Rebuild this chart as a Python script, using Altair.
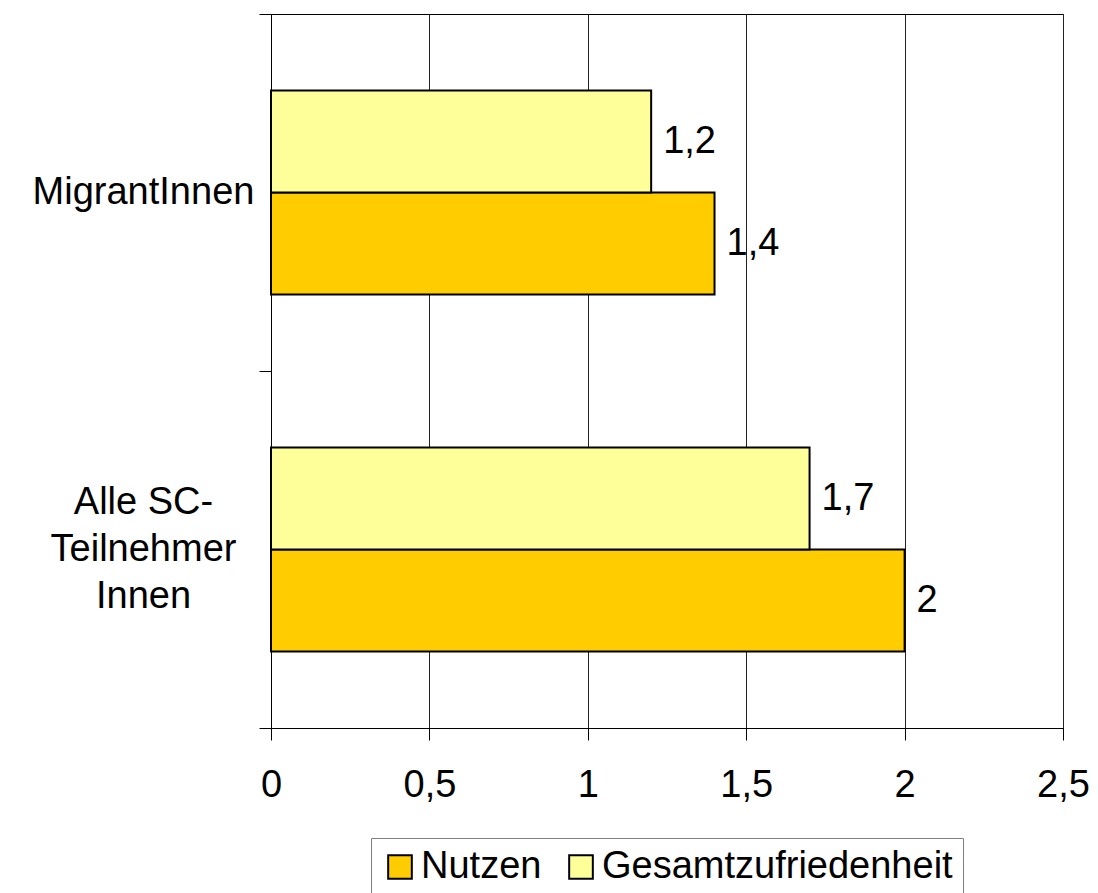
import altair as alt
import pandas as pd

categories = ["MigrantInnen", "Alle SC-|Teilnehmer|Innen"]
series = ["Nutzen", "Gesamtzufriedenheit"]
nutzen = [1.4, 2.0]
gesamt = [1.2, 1.7]
colors = ["#FFCC00", "#FFFF99"]
x_ticks = [0, 0.5, 1, 1.5, 2, 2.5]

rows = []
for c, n, g in zip(categories, nutzen, gesamt):
    rows.append({"cat": c, "series": "Nutzen", "value": n})
    rows.append({"cat": c, "series": "Gesamtzufriedenheit", "value": g})
df = pd.DataFrame(rows)

FONT = "Liberation Sans"
FS = 38
NB = "\u00a0\u00a0\u00a0"

y_enc = alt.Y("cat:N", sort=categories, title=None,
              scale=alt.Scale(paddingInner=0, paddingOuter=0),
              axis=alt.Axis(labelExpr="indexof(datum.label, '|') < 0 ? ['', datum.label + '" + NB + "', ''] : split(datum.label, '|')",
                            labelAlign="center", labelPadding=116, labelOffset=-47,
                            labelBaseline="middle", labelLineHeight=47,
                            labelFontSize=FS, labelColor="black", labelBound=False,
                            labelOverlap=False, tickBand="extent", tickSize=12,
                            tickColor="black", domainColor="black", grid=False,
                            labelLimit=400))
yoff = alt.YOffset("series:N", sort=["Gesamtzufriedenheit", "Nutzen"],
                   scale=alt.Scale(paddingOuter=0.75, paddingInner=0))

bars = alt.Chart(df).mark_bar(stroke="black", strokeWidth=2).encode(
    x=alt.X("value:Q", title=None,
            scale=alt.Scale(domain=[0, 2.5], nice=False),
            axis=alt.Axis(values=x_ticks, format=".1~f",
                          labelExpr="replace(datum.label, '.', ',')",
                          labelFontSize=FS, labelColor="black", labelPadding=26,
                          tickSize=12, tickColor="black", domainColor="black",
                          grid=True, gridColor="#222222", gridWidth=1,
                          labelFlush=False)),
    y=y_enc,
    yOffset=yoff,
    color=alt.Color("series:N", title=None,
                    scale=alt.Scale(domain=series, range=colors),
                    legend=alt.Legend(orient="none", legendX=100, legendY=824,
                                      direction="horizontal", symbolType="square",
                                      symbolSize=560, symbolStrokeColor="black",
                                      symbolStrokeWidth=2, labelFontSize=38,
                                      labelColor="black", labelOffset=2,
                                      columnPadding=20, strokeColor="#808080",
                                      padding=10, labelLimit=600)),
)

labels = alt.Chart(df).transform_calculate(
    lab="replace(format(datum.value, '.1~f'), '.', ',')"
).mark_text(align="left", baseline="middle", dx=12, fontSize=FS, color="black").encode(
    x=alt.X("value:Q"),
    y=alt.Y("cat:N", sort=categories),
    yOffset=alt.YOffset("series:N", sort=["Gesamtzufriedenheit", "Nutzen"]),
    text="lab:N",
)

chart = alt.layer(bars, labels).properties(
    width=792, height=714,
    autosize=alt.AutoSizeParams(type="none"),
    padding={"left": 263, "top": 6, "right": 27, "bottom": 180},
).configure(font=FONT).configure_view(stroke="black", strokeWidth=1)

chart.save("out.html", embed_options={"renderer": "svg", "actions": False})
